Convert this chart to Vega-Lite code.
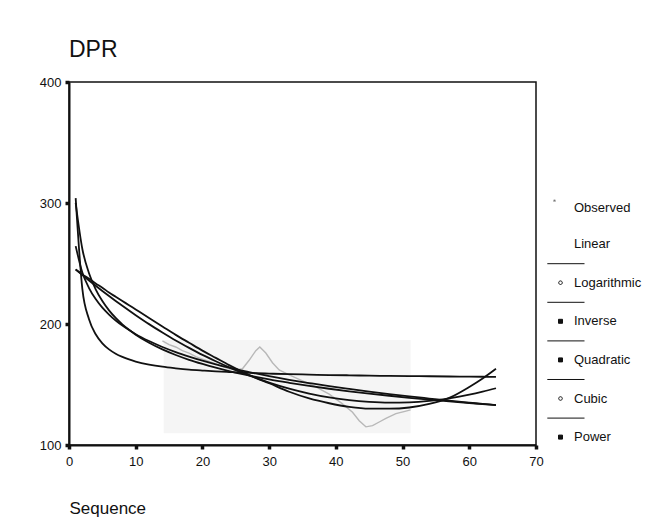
{
  "$schema": "https://vega.github.io/schema/vega-lite/v6.json",
  "width": 467,
  "height": 363,
  "autosize": {"type": "none"},
  "padding": {"left": 69, "top": 82, "right": 125, "bottom": 79},
  "background": "white",
  "config": {"view": {"stroke": "#111", "strokeWidth": 1.5}, "font": "Liberation Sans"},
  "title": {"text": "DPR", "anchor": "start", "frame": "group", "fontSize": 23, "fontWeight": "normal", "font": "Liberation Sans", "color": "#111", "offset": 14},
  "datasets": {
    "shade": [{"x": 14.2, "x2": 51.2, "y": 109.7, "y2": 186.8}],
    "observed": [
      {"series": "Observed", "x": 14, "y": 186}, {"series": "Observed", "x": 15, "y": 183}, {"series": "Observed", "x": 16, "y": 181},
      {"series": "Observed", "x": 17, "y": 178}, {"series": "Observed", "x": 18, "y": 176}, {"series": "Observed", "x": 19, "y": 173},
      {"series": "Observed", "x": 20, "y": 171}, {"series": "Observed", "x": 21, "y": 169}, {"series": "Observed", "x": 22, "y": 167},
      {"series": "Observed", "x": 23, "y": 165}, {"series": "Observed", "x": 24, "y": 163}, {"series": "Observed", "x": 25, "y": 162},
      {"series": "Observed", "x": 26, "y": 163}, {"series": "Observed", "x": 27, "y": 170}, {"series": "Observed", "x": 28, "y": 178},
      {"series": "Observed", "x": 28.6, "y": 181}, {"series": "Observed", "x": 29.5, "y": 176}, {"series": "Observed", "x": 30.5, "y": 168},
      {"series": "Observed", "x": 31.5, "y": 162}, {"series": "Observed", "x": 33, "y": 158}, {"series": "Observed", "x": 35, "y": 153},
      {"series": "Observed", "x": 37, "y": 148}, {"series": "Observed", "x": 39, "y": 142}, {"series": "Observed", "x": 41, "y": 134},
      {"series": "Observed", "x": 42.5, "y": 127}, {"series": "Observed", "x": 43.5, "y": 120}, {"series": "Observed", "x": 44.5, "y": 115},
      {"series": "Observed", "x": 45.5, "y": 116}, {"series": "Observed", "x": 46.5, "y": 119}, {"series": "Observed", "x": 47.5, "y": 122},
      {"series": "Observed", "x": 49, "y": 126}, {"series": "Observed", "x": 50.5, "y": 128}, {"series": "Observed", "x": 51.2, "y": 129}
    ],
    "fits": [
      {"series": "Inverse", "x": 1, "y": 304}, {"series": "Inverse", "x": 2, "y": 229}, {"series": "Inverse", "x": 3, "y": 204}, {"series": "Inverse", "x": 4, "y": 191.5},
      {"series": "Inverse", "x": 5, "y": 184}, {"series": "Inverse", "x": 6, "y": 179}, {"series": "Inverse", "x": 7, "y": 175.4}, {"series": "Inverse", "x": 8, "y": 172.8},
      {"series": "Inverse", "x": 9, "y": 170.7}, {"series": "Inverse", "x": 10, "y": 169}, {"series": "Inverse", "x": 12, "y": 166.5}, {"series": "Inverse", "x": 14, "y": 164.7},
      {"series": "Inverse", "x": 16, "y": 163.4}, {"series": "Inverse", "x": 18, "y": 162.3}, {"series": "Inverse", "x": 20, "y": 161.5}, {"series": "Inverse", "x": 22, "y": 160.8},
      {"series": "Inverse", "x": 24, "y": 160.3}, {"series": "Inverse", "x": 26, "y": 159.8}, {"series": "Inverse", "x": 28, "y": 159.4}, {"series": "Inverse", "x": 30, "y": 159},
      {"series": "Inverse", "x": 33, "y": 158.5}, {"series": "Inverse", "x": 36, "y": 158.2}, {"series": "Inverse", "x": 39, "y": 157.8}, {"series": "Inverse", "x": 42, "y": 157.6},
      {"series": "Inverse", "x": 45, "y": 157.3}, {"series": "Inverse", "x": 48, "y": 157.1}, {"series": "Inverse", "x": 51, "y": 156.9}, {"series": "Inverse", "x": 54, "y": 156.8},
      {"series": "Inverse", "x": 57, "y": 156.6}, {"series": "Inverse", "x": 60, "y": 156.5}, {"series": "Inverse", "x": 62, "y": 156.4}, {"series": "Inverse", "x": 64, "y": 156.3},

      {"series": "Power", "x": 1, "y": 300}, {"series": "Power", "x": 2, "y": 262}, {"series": "Power", "x": 3, "y": 242}, {"series": "Power", "x": 4, "y": 228.7},
      {"series": "Power", "x": 5, "y": 219}, {"series": "Power", "x": 6, "y": 211.3}, {"series": "Power", "x": 7, "y": 205}, {"series": "Power", "x": 8, "y": 199.7},
      {"series": "Power", "x": 9, "y": 195.2}, {"series": "Power", "x": 10, "y": 191.2}, {"series": "Power", "x": 12, "y": 184.5}, {"series": "Power", "x": 14, "y": 179},
      {"series": "Power", "x": 16, "y": 174.4}, {"series": "Power", "x": 18, "y": 170.4}, {"series": "Power", "x": 20, "y": 167}, {"series": "Power", "x": 22, "y": 163.9},
      {"series": "Power", "x": 24, "y": 161.1}, {"series": "Power", "x": 26, "y": 158.6}, {"series": "Power", "x": 28, "y": 156.3}, {"series": "Power", "x": 30, "y": 154.2},
      {"series": "Power", "x": 33, "y": 151.4}, {"series": "Power", "x": 36, "y": 148.8}, {"series": "Power", "x": 39, "y": 146.5}, {"series": "Power", "x": 42, "y": 144.4},
      {"series": "Power", "x": 45, "y": 142.5}, {"series": "Power", "x": 48, "y": 140.7}, {"series": "Power", "x": 51, "y": 139}, {"series": "Power", "x": 54, "y": 137.5},
      {"series": "Power", "x": 57, "y": 136}, {"series": "Power", "x": 60, "y": 134.7}, {"series": "Power", "x": 62, "y": 133.8}, {"series": "Power", "x": 64, "y": 133},

      {"series": "Logarithmic", "x": 1, "y": 264.4}, {"series": "Logarithmic", "x": 2, "y": 242.5}, {"series": "Logarithmic", "x": 3, "y": 229.7}, {"series": "Logarithmic", "x": 4, "y": 220.6},
      {"series": "Logarithmic", "x": 5, "y": 213.5}, {"series": "Logarithmic", "x": 6, "y": 207.8}, {"series": "Logarithmic", "x": 7, "y": 202.9}, {"series": "Logarithmic", "x": 8, "y": 198.7},
      {"series": "Logarithmic", "x": 9, "y": 195}, {"series": "Logarithmic", "x": 10, "y": 191.6}, {"series": "Logarithmic", "x": 12, "y": 185.9}, {"series": "Logarithmic", "x": 14, "y": 181},
      {"series": "Logarithmic", "x": 16, "y": 176.8}, {"series": "Logarithmic", "x": 18, "y": 173.1}, {"series": "Logarithmic", "x": 20, "y": 169.7}, {"series": "Logarithmic", "x": 22, "y": 166.7},
      {"series": "Logarithmic", "x": 24, "y": 164}, {"series": "Logarithmic", "x": 26, "y": 161.4}, {"series": "Logarithmic", "x": 28, "y": 159.1}, {"series": "Logarithmic", "x": 30, "y": 156.9},
      {"series": "Logarithmic", "x": 33, "y": 153.9}, {"series": "Logarithmic", "x": 36, "y": 151.2}, {"series": "Logarithmic", "x": 39, "y": 148.6}, {"series": "Logarithmic", "x": 42, "y": 146.3},
      {"series": "Logarithmic", "x": 45, "y": 144.1}, {"series": "Logarithmic", "x": 48, "y": 142.1}, {"series": "Logarithmic", "x": 51, "y": 140.2}, {"series": "Logarithmic", "x": 54, "y": 138.4},
      {"series": "Logarithmic", "x": 57, "y": 136.6}, {"series": "Logarithmic", "x": 60, "y": 135}, {"series": "Logarithmic", "x": 62, "y": 134}, {"series": "Logarithmic", "x": 64, "y": 133},

      {"series": "Quadratic", "x": 1, "y": 245.1}, {"series": "Quadratic", "x": 2, "y": 240.5}, {"series": "Quadratic", "x": 3, "y": 236}, {"series": "Quadratic", "x": 4, "y": 231.6},
      {"series": "Quadratic", "x": 5, "y": 227.3}, {"series": "Quadratic", "x": 6, "y": 223.1}, {"series": "Quadratic", "x": 7, "y": 219}, {"series": "Quadratic", "x": 8, "y": 215},
      {"series": "Quadratic", "x": 9, "y": 211.1}, {"series": "Quadratic", "x": 10, "y": 207.3}, {"series": "Quadratic", "x": 12, "y": 199.9}, {"series": "Quadratic", "x": 14, "y": 193},
      {"series": "Quadratic", "x": 16, "y": 186.4}, {"series": "Quadratic", "x": 18, "y": 180.3}, {"series": "Quadratic", "x": 20, "y": 174.5}, {"series": "Quadratic", "x": 22, "y": 169.2},
      {"series": "Quadratic", "x": 24, "y": 164.2}, {"series": "Quadratic", "x": 26, "y": 159.6}, {"series": "Quadratic", "x": 28, "y": 155.4}, {"series": "Quadratic", "x": 30, "y": 151.6},
      {"series": "Quadratic", "x": 33, "y": 146.6}, {"series": "Quadratic", "x": 36, "y": 142.5}, {"series": "Quadratic", "x": 39, "y": 139.3}, {"series": "Quadratic", "x": 42, "y": 137},
      {"series": "Quadratic", "x": 45, "y": 135.6}, {"series": "Quadratic", "x": 48, "y": 135}, {"series": "Quadratic", "x": 51, "y": 135.3}, {"series": "Quadratic", "x": 54, "y": 136.5},
      {"series": "Quadratic", "x": 57, "y": 138.6}, {"series": "Quadratic", "x": 60, "y": 141.6}, {"series": "Quadratic", "x": 62, "y": 144.1}, {"series": "Quadratic", "x": 64, "y": 146.9},

      {"series": "Cubic", "x": 1, "y": 245}, {"series": "Cubic", "x": 2, "y": 241}, {"series": "Cubic", "x": 3, "y": 237.5}, {"series": "Cubic", "x": 4, "y": 233.5},
      {"series": "Cubic", "x": 5, "y": 230}, {"series": "Cubic", "x": 6, "y": 226}, {"series": "Cubic", "x": 7, "y": 222.5}, {"series": "Cubic", "x": 8, "y": 219},
      {"series": "Cubic", "x": 9, "y": 215.5}, {"series": "Cubic", "x": 10, "y": 212}, {"series": "Cubic", "x": 12, "y": 205}, {"series": "Cubic", "x": 14, "y": 198},
      {"series": "Cubic", "x": 16, "y": 191}, {"series": "Cubic", "x": 18, "y": 184.5}, {"series": "Cubic", "x": 20, "y": 178}, {"series": "Cubic", "x": 22, "y": 172},
      {"series": "Cubic", "x": 24, "y": 166}, {"series": "Cubic", "x": 26, "y": 160.5}, {"series": "Cubic", "x": 28, "y": 155.5}, {"series": "Cubic", "x": 30, "y": 151},
      {"series": "Cubic", "x": 33, "y": 144}, {"series": "Cubic", "x": 36, "y": 138.5}, {"series": "Cubic", "x": 39, "y": 134.5}, {"series": "Cubic", "x": 42, "y": 131.5},
      {"series": "Cubic", "x": 45, "y": 130}, {"series": "Cubic", "x": 48, "y": 130}, {"series": "Cubic", "x": 51, "y": 131}, {"series": "Cubic", "x": 54, "y": 134},
      {"series": "Cubic", "x": 57, "y": 139}, {"series": "Cubic", "x": 60, "y": 148}, {"series": "Cubic", "x": 62, "y": 155}, {"series": "Cubic", "x": 64, "y": 163}
    ]
  },
  "encoding": {
    "x": {
      "field": "x", "type": "quantitative",
      "scale": {"domain": [0, 70], "nice": false, "zero": false},
      "axis": {
        "values": [0, 10, 20, 30, 40, 50, 60, 70], "grid": false,
        "title": "Sequence", "titleAnchor": "start", "titleAlign": "left", "titleX": 0, "titleY": 68, "titleBaseline": "alphabetic",
        "titleFontSize": 17, "titleFontWeight": "normal", "titleFont": "Liberation Sans", "titleColor": "#111",
        "labelFontSize": 13, "labelColor": "#111", "labelFont": "Liberation Sans", "labelPadding": 6, "labelFlush": false, "labelOverlap": false,
        "tickSize": 4, "tickWidth": 3.5, "tickColor": "#111", "domainColor": "#111", "domainWidth": 2
      }
    },
    "y": {
      "field": "y", "type": "quantitative",
      "scale": {"domain": [100, 400], "nice": false, "zero": false},
      "axis": {
        "values": [100, 200, 300, 400], "grid": false, "title": null,
        "labelFontSize": 13, "labelColor": "#111", "labelFont": "Liberation Sans", "labelPadding": 4, "labelFlush": false,
        "tickSize": 4, "tickWidth": 3.5, "tickColor": "#111", "domainColor": "#111", "domainWidth": 2
      }
    }
  },
  "layer": [
    {
      "data": {"name": "shade"},
      "mark": {"type": "rect", "fill": "#f5f5f5"},
      "encoding": {"x2": {"field": "x2"}, "y2": {"field": "y2"}}
    },
    {
      "data": {"name": "observed"},
      "mark": {"type": "line", "strokeWidth": 1.4, "interpolate": "linear"},
      "encoding": {
        "color": {
          "field": "series", "type": "nominal",
          "scale": {"domain": ["Observed", "Linear", "Logarithmic", "Inverse", "Quadratic", "Cubic", "Power"], "range": ["#b8b8b8", "#111111", "#111111", "#111111", "#111111", "#111111", "#111111"]},
          "legend": {
            "orient": "none", "legendX": 485, "legendY": 119, "title": null, "padding": 0,
            "labelFont": "Liberation Sans", "labelFontSize": 13, "labelColor": "#111", "labelOffset": 7,
            "symbolSize": 64, "rowPadding": -4.4, "symbolStrokeWidth": 1,
            "encode": {
              "symbols": {
                "update": {
                  "shape": {"signal": "datum.value == 'Observed' ? 'M-3.3,-4.5M6,4.5M-1.7,-1.9h0.4v0.4h-0.4z' : datum.value == 'Linear' ? 'M-3.3,-4.5M6,4.5M-3.3,4.9H6' : (datum.value == 'Logarithmic' || datum.value == 'Cubic') ? 'M-3.3,-4.5M6,4.5M-3.3,4.9H6M0.45,0A0.45,0.45,0,1,1,-0.45,0A0.45,0.45,0,1,1,0.45,0' : datum.value == 'Power' ? 'M-3.3,-4.5M6,4.5M-0.5,-0.5H0.5V0.5H-0.5Z' : 'M-3.3,-4.5M6,4.5M-3.3,4.9H6M-0.5,-0.5H0.5V0.5H-0.5Z'"},
                  "fill": {"signal": "(datum.value == 'Logarithmic' || datum.value == 'Cubic') ? 'transparent' : '#111'"},
                  "stroke": {"value": "#111"},
                  "strokeWidth": {"value": 1},
                  "opacity": {"value": 1}
                }
              }
            }
          }
        }
      }
    },
    {
      "data": {"name": "fits"},
      "mark": {"type": "line", "strokeWidth": 1.8, "interpolate": "monotone"},
      "encoding": {
        "color": {"field": "series", "type": "nominal"}
      }
    }
  ]
}
